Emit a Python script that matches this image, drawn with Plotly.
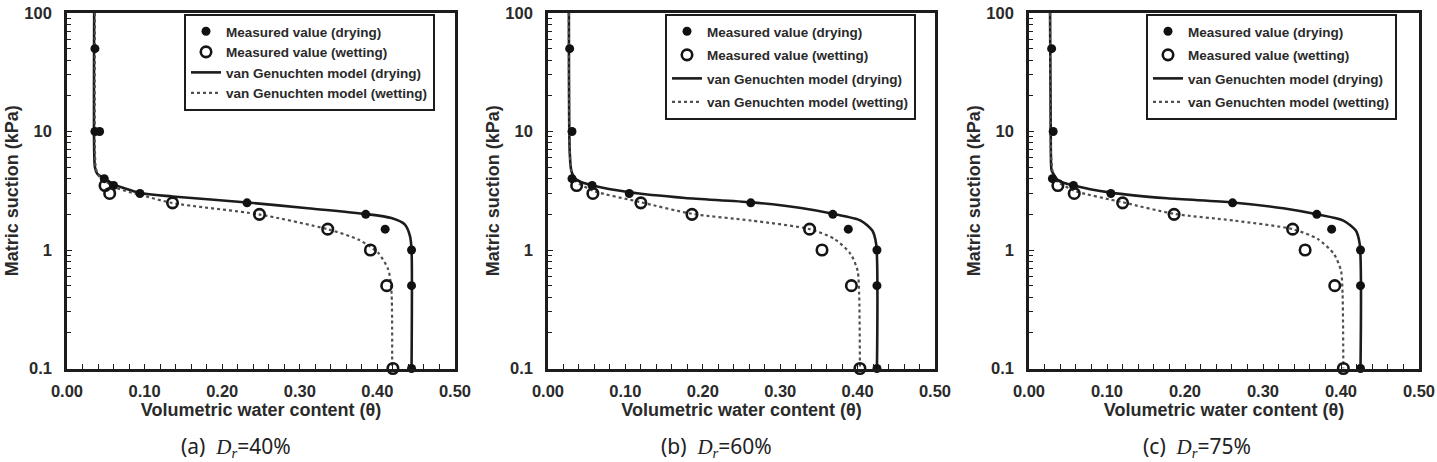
import plotly.graph_objects as go

# ---------------- data ----------------
# Panel (a) Dr = 40 %
a_dry_theta = [0.036, 0.036, 0.042, 0.048, 0.060, 0.094, 0.232, 0.385, 0.410, 0.444, 0.444, 0.444]
a_dry_psi   = [50, 10, 10, 4.0, 3.5, 3.0, 2.5, 2.0, 1.5, 1.0, 0.5, 0.1]
a_wet_theta = [0.049, 0.055, 0.136, 0.248, 0.336, 0.391, 0.412, 0.420]
a_wet_psi   = [3.5, 3.0, 2.5, 2.0, 1.5, 1.0, 0.5, 0.1]
a_vgd_theta = [0.035, 0.035, 0.036, 0.039, 0.047, 0.0615, 0.094, 0.136, 0.232, 0.307, 0.386, 0.418, 0.4355, 0.442, 0.444, 0.444]
a_vgd_psi   = [100, 7.0, 5.0, 4.4, 4.05, 3.56, 3.03, 2.83, 2.52, 2.26, 2.01, 1.86, 1.64, 1.31, 1.0, 0.1]
a_vgw_theta = [0.036, 0.036, 0.037, 0.040, 0.047, 0.064, 0.094, 0.136, 0.247, 0.337, 0.376, 0.401, 0.414, 0.418, 0.419]
a_vgw_psi   = [100, 7.0, 5.0, 4.3, 3.9, 3.33, 2.93, 2.49, 2.0, 1.49, 1.22, 0.946, 0.684, 0.46, 0.1]

# Panel (b) Dr = 60 %
b_dry_theta = [0.028, 0.031, 0.031, 0.057, 0.105, 0.262, 0.368, 0.388, 0.425, 0.425, 0.425]
b_dry_psi   = [50, 10, 4.0, 3.5, 3.0, 2.5, 2.0, 1.5, 1.0, 0.5, 0.1]
b_wet_theta = [0.037, 0.058, 0.120, 0.186, 0.338, 0.354, 0.392, 0.403]
b_wet_psi   = [3.5, 3.0, 2.5, 2.0, 1.5, 1.0, 0.5, 0.1]
b_vgd_theta = [0.027, 0.028, 0.030, 0.033, 0.0385, 0.058, 0.105, 0.177, 0.262, 0.327, 0.368, 0.404, 0.419, 0.424, 0.425]
b_vgd_psi   = [100, 6.9, 4.7, 4.2, 3.85, 3.5, 3.07, 2.75, 2.53, 2.26, 2.02, 1.77, 1.46, 1.12, 0.1]
b_vgw_theta = [0.027, 0.028, 0.030, 0.032, 0.058, 0.120, 0.186, 0.263, 0.338, 0.370, 0.391, 0.400, 0.402, 0.403]
b_vgw_psi   = [100, 6.9, 4.7, 4.0, 3.17, 2.53, 2.02, 1.77, 1.5, 1.24, 0.925, 0.668, 0.425, 0.1]

# Panel (c) Dr = 75 %
c_dry_theta = [0.029, 0.031, 0.030, 0.057, 0.105, 0.261, 0.369, 0.388, 0.425, 0.425, 0.425]
c_dry_psi   = [50, 10, 4.0, 3.5, 3.0, 2.5, 2.0, 1.5, 1.0, 0.5, 0.1]
c_wet_theta = [0.037, 0.058, 0.120, 0.186, 0.338, 0.354, 0.392, 0.403]
c_wet_psi   = [3.5, 3.0, 2.5, 2.0, 1.5, 1.0, 0.5, 0.1]
c_vgd_theta = [0.027, 0.028, 0.029, 0.033, 0.0376, 0.057, 0.105, 0.177, 0.261, 0.326, 0.369, 0.403, 0.419, 0.424, 0.425]
c_vgd_psi   = [100, 6.9, 4.7, 4.2, 3.85, 3.5, 3.05, 2.73, 2.52, 2.25, 2.0, 1.77, 1.46, 1.12, 0.1]
c_vgw_theta = [0.027, 0.028, 0.030, 0.032, 0.058, 0.120, 0.186, 0.263, 0.338, 0.370, 0.391, 0.400, 0.402, 0.403]
c_vgw_psi   = [100, 6.9, 4.7, 4.0, 3.17, 2.53, 2.02, 1.77, 1.5, 1.24, 0.925, 0.668, 0.425, 0.1]

captions = ["(a)", "(b)", "(c)"]
densities = ["40%", "60%", "75%"]
series_names = ["Measured value (drying)", "Measured value (wetting)",
                "van Genuchten model (drying)", "van Genuchten model (wetting)"]
x_ticks = [0.0, 0.1, 0.2, 0.3, 0.4, 0.5]
y_ticks = [0.1, 1, 10, 100]
y_ticklabels = ["0.1", "1", "10", "100"]

panels = [
    (a_dry_theta, a_dry_psi, a_wet_theta, a_wet_psi, a_vgd_theta, a_vgd_psi, a_vgw_theta, a_vgw_psi),
    (b_dry_theta, b_dry_psi, b_wet_theta, b_wet_psi, b_vgd_theta, b_vgd_psi, b_vgw_theta, b_vgw_psi),
    (c_dry_theta, c_dry_psi, c_wet_theta, c_wet_psi, c_vgd_theta, c_vgd_psi, c_vgw_theta, c_vgw_psi),
]

# ---------------- layout geometry ----------------
W, H = 1437, 462
x_domains_px = [(67, 455), (548, 935), (1029, 1419)]
y_top_px, y_bot_px = 13, 368.5
legend_left_px = [184, 665, 1146]
legend_gap = [0, 3, 3]
caption_x_px = [236, 716, 1197]

INK = "#1c1c1c"
FONT = "Liberation Sans"

fig = go.Figure()

minor_y = [m * 10 ** e for e in range(-1, 2) for m in range(2, 10)]

for i, p in enumerate(panels):
    dth, dps, wth, wps, vdth, vdps, vwth, vwps = p
    sfx = "" if i == 0 else str(i + 1)
    xa, ya = "x" + sfx, "y" + sfx
    lg = "legend" + sfx
    # model curves
    fig.add_trace(go.Scatter(x=vdth, y=vdps, mode="lines", name=series_names[2],
                             line=dict(color=INK, width=2.6, shape="spline", smoothing=0.7),
                             xaxis=xa, yaxis=ya, legend=lg, legendgroup=f"g{i}c", legendrank=3,
                             cliponaxis=False))
    fig.add_trace(go.Scatter(x=vwth, y=vwps, mode="lines", name=series_names[3],
                             line=dict(color="#505050", width=2.2, dash="dot", shape="spline", smoothing=0.7),
                             xaxis=xa, yaxis=ya, legend=lg, legendgroup=f"g{i}d", legendrank=4,
                             cliponaxis=False))
    # measured values
    fig.add_trace(go.Scatter(x=dth, y=dps, mode="markers", name=series_names[0],
                             marker=dict(symbol="circle", size=9, color="#111111"),
                             xaxis=xa, yaxis=ya, legend=lg, legendgroup=f"g{i}a", legendrank=1,
                             cliponaxis=False))
    fig.add_trace(go.Scatter(x=wth, y=wps, mode="markers", name=series_names[1],
                             marker=dict(symbol="circle-open", size=10.5, color="#151515",
                                         line=dict(width=2.6, color="#151515")),
                             xaxis=xa, yaxis=ya, legend=lg, legendgroup=f"g{i}b", legendrank=2,
                             cliponaxis=False))

    x0, x1 = x_domains_px[i]
    common_font = dict(family=FONT, size=16.5, color="#2a2a2a", weight="bold")
    fig.update_layout(**{
        ("xaxis" + sfx): dict(
            domain=[x0 / W, x1 / W], anchor=ya, range=[0, 0.5], automargin=False,
            tickvals=x_ticks, tickformat=".2f", ticks="inside", ticklen=5, tickwidth=1.2,
            tickcolor=INK, tickfont=common_font, ticklabelstandoff=6,
            minor=dict(dtick=0.02, ticks="inside", ticklen=5, tickwidth=1.2, tickcolor=INK, showgrid=False),
            showline=True, linecolor=INK, linewidth=2.6, mirror=True,
            showgrid=False, zeroline=False,
            title=dict(text="Volumetric water content (θ)", standoff=3,
                       font=dict(family=FONT, size=18, color="#2a2a2a", weight="bold")),
        ),
        ("yaxis" + sfx): dict(
            domain=[1 - y_bot_px / H, 1 - y_top_px / H], anchor=xa, type="log", range=[-1, 2],
            automargin=False,
            tickvals=y_ticks, ticktext=y_ticklabels, ticks="inside", ticklen=5, tickwidth=1.2,
            tickcolor=INK, tickfont=common_font, ticklabelstandoff=9,
            minor=dict(tickvals=minor_y, ticks="inside", ticklen=4, tickwidth=1.2, tickcolor=INK, showgrid=False),
            showline=True, linecolor=INK, linewidth=2.6, mirror=True,
            showgrid=False, zeroline=False,
            title=dict(text="Matric suction (kPa)", standoff=2,
                       font=dict(family=FONT, size=18, color="#2a2a2a", weight="bold")),
        ),
        lg: dict(
            x=legend_left_px[i] / W, xanchor="left", y=1 - 14 / H, yanchor="top",
            xref="paper", yref="paper",
            bgcolor="white", bordercolor=INK, borderwidth=2,
            font=dict(family=FONT, size=13.5, color="#2a2a2a", weight="bold"),
            traceorder="grouped", tracegroupgap=legend_gap[i], itemwidth=30,
        ),
    })
    fig.add_annotation(
        x=caption_x_px[i] / W, y=1 - 446 / H, xref="paper", yref="paper",
        xanchor="center", yanchor="middle", showarrow=False,
        text=(f"{captions[i]}  <span style=\"font-family:'Liberation Serif'\"><i>D</i>"
              f"<sub><i>r</i></sub></span>={densities[i]}"),
        font=dict(family="Noto Sans", size=21, color="#222222"),
    )

fig.update_layout(
    template="none",
    width=W, height=H, margin=dict(l=0, r=0, t=0, b=0, autoexpand=False),
    paper_bgcolor="white", plot_bgcolor="white",
    showlegend=True,
)

fig.write_html("out.html")
